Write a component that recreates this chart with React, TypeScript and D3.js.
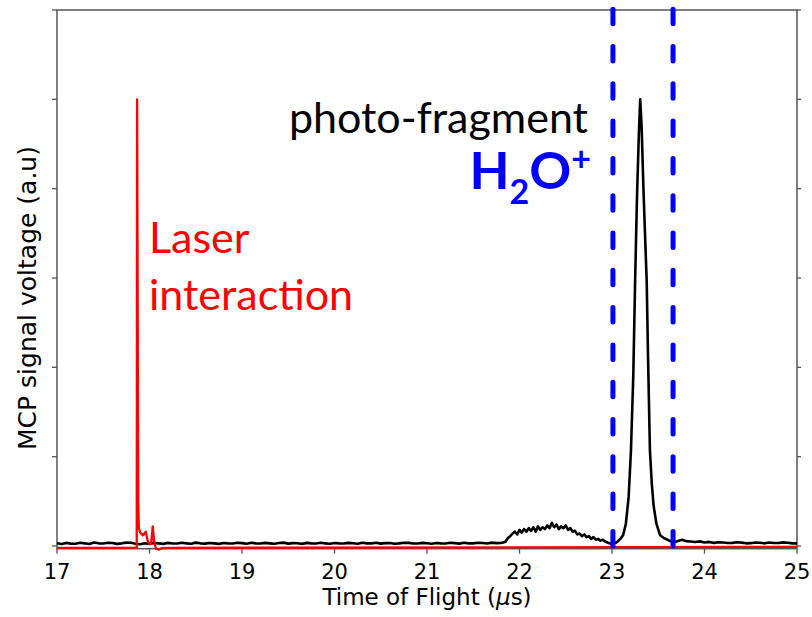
import * as d3 from "d3";
import React from "react";

// time of flight (µs) and MCP signal (a.u.)
const baseline: [number, number][] = [
  [17.0, 0.03], [17.05, 0.022], [17.1, 0.035], [17.15, 0.027], [17.2, 0.025], [17.25, 0.036],
  [17.3, 0.03], [17.35, 0.022], [17.4, 0.04], [17.45, 0.03], [17.5, 0.028], [17.55, 0.037],
  [17.6, 0.033], [17.65, 0.024], [17.7, 0.03], [17.75, 0.038], [17.8, 0.036], [17.85, 0.025],
  [17.9, 0.02], [17.95, 0.03], [18.0, 0.025], [18.05, 0.034], [18.1, 0.03], [18.15, 0.024],
  [18.2, 0.035], [18.25, 0.029], [18.3, 0.028], [18.35, 0.036], [18.4, 0.03], [18.45, 0.025],
  [18.5, 0.038], [18.55, 0.03], [18.6, 0.027], [18.65, 0.034], [18.7, 0.03], [18.75, 0.024],
  [18.8, 0.034], [18.85, 0.03], [18.9, 0.029], [18.95, 0.036], [19.0, 0.032], [19.05, 0.026],
  [19.1, 0.036], [19.15, 0.03], [19.2, 0.028], [19.25, 0.035], [19.3, 0.03], [19.35, 0.025],
  [19.4, 0.033], [19.45, 0.038], [19.5, 0.027], [19.55, 0.032], [19.6, 0.031], [19.65, 0.024],
  [19.7, 0.035], [19.75, 0.03], [19.8, 0.029], [19.85, 0.036], [19.9, 0.03], [19.95, 0.025],
  [20.0, 0.034], [20.05, 0.03], [20.1, 0.028], [20.15, 0.035], [20.2, 0.031], [20.25, 0.025],
  [20.3, 0.036], [20.35, 0.03], [20.4, 0.03], [20.45, 0.037], [20.5, 0.027], [20.55, 0.032],
  [20.6, 0.033], [20.65, 0.026], [20.7, 0.03], [20.75, 0.036], [20.8, 0.035], [20.85, 0.028],
  [20.9, 0.029], [20.95, 0.035], [21.0, 0.031], [21.05, 0.026], [21.1, 0.034], [21.15, 0.03],
  [21.2, 0.028], [21.25, 0.036], [21.3, 0.032], [21.35, 0.027], [21.4, 0.036], [21.45, 0.03],
  [21.5, 0.03], [21.55, 0.037], [21.6, 0.033], [21.65, 0.028], [21.7, 0.038], [21.75, 0.032],
];

const hump: [number, number][] = [
  [21.8, 0.035], [21.825, 0.04], [21.85, 0.05], [21.875, 0.09], [21.9, 0.11], [21.925, 0.14],
  [21.95, 0.16], [21.975, 0.13], [22.0, 0.18], [22.025, 0.15], [22.05, 0.19], [22.075, 0.16],
  [22.1, 0.2], [22.125, 0.17], [22.15, 0.21], [22.175, 0.16], [22.2, 0.22], [22.225, 0.18],
  [22.25, 0.21], [22.275, 0.19], [22.3, 0.23], [22.325, 0.2], [22.35, 0.26], [22.375, 0.21],
  [22.4, 0.24], [22.425, 0.19], [22.45, 0.22], [22.475, 0.2], [22.5, 0.23], [22.525, 0.18],
  [22.55, 0.2], [22.575, 0.16], [22.6, 0.17], [22.625, 0.13], [22.65, 0.14], [22.675, 0.11],
  [22.7, 0.13], [22.725, 0.1], [22.75, 0.11], [22.775, 0.08], [22.8, 0.1], [22.825, 0.07],
  [22.85, 0.08], [22.875, 0.06], [22.9, 0.07], [22.925, 0.05], [22.95, 0.04], [22.975, 0.03],
  [23.0, 0.02],
];

const peak: [number, number][] = [
  [23.03, 0.03], [23.06, 0.05], [23.09, 0.08], [23.12, 0.12], [23.15, 0.25], [23.18, 0.55],
  [23.205, 1.07], [23.23, 1.9], [23.25, 2.97], [23.27, 3.9], [23.29, 4.6], [23.305, 5.0],
  [23.32, 4.7], [23.34, 4.0], [23.36, 3.4], [23.375, 2.97], [23.39, 2.1], [23.41, 1.07],
  [23.43, 0.7], [23.45, 0.45], [23.48, 0.25], [23.52, 0.12], [23.56, 0.09], [23.6, 0.07],
  [23.64, 0.05], [23.68, 0.045], [23.72, 0.06], [23.76, 0.07], [23.8, 0.055],
];

const tail: [number, number][] = [
  [23.85, 0.05], [23.9, 0.045], [23.95, 0.052], [24.0, 0.04], [24.05, 0.046], [24.1, 0.035],
  [24.15, 0.042], [24.2, 0.04], [24.25, 0.033], [24.3, 0.035], [24.35, 0.043], [24.4, 0.038],
  [24.45, 0.03], [24.5, 0.032], [24.55, 0.04], [24.6, 0.036], [24.65, 0.03], [24.7, 0.04],
  [24.75, 0.034], [24.8, 0.033], [24.85, 0.041], [24.9, 0.037], [24.95, 0.03], [25.0, 0.03],
];

const laser: [number, number][] = [
  [17.0, -0.02], [17.862, -0.02], [17.866, 5.0], [17.878, 0.5], [17.885, 0.2], [17.9, 0.15],
  [17.93, 0.12], [17.96, 0.16], [17.98, 0.06], [18.0, 0.02], [18.02, 0.05], [18.035, 0.22],
  [18.05, 0.05], [18.07, -0.03], [18.1, -0.04], [18.13, -0.025], [18.2, -0.02], [25.0, -0.01],
];

const gateEdges = [23.01, 23.66];
const xTicks = [17, 18, 19, 20, 21, 22, 23, 24, 25];
const yTicks = [0, 1, 2, 3, 4, 5, 6];

const App = () => {
  const width = 812;
  const height = 617;
  const left = 57, right = 797, top = 10, bottom = 548.7;

  const x = d3.scaleLinear().domain([17, 25]).range([left, right]);
  const y = d3.scaleLinear().domain([-0.03, 6]).range([bottom, top]);

  const line = d3.line<[number, number]>()
    .x(d => x(d[0]))
    .y(d => y(d[1]));

  const signal = [...baseline, ...hump, ...peak, ...tail];
  const axisColor = "#555";
  const tickFont = "DejaVu Sans, sans-serif";
  const noteFont = "Lato, sans-serif";

  return (
    <svg width={width} height={height} style={{ position: "absolute", left: 0, top: 0 }}>
      <rect width={width} height={height} fill="white" />

      {/* spines */}
      <rect x={left} y={top} width={right - left} height={bottom - top}
        fill="none" stroke={axisColor} strokeWidth={1.5} />

      {yTicks.map(t => (
        <g key={"y" + t}>
          <line x1={left - 5} x2={left} y1={y(t)} y2={y(t)} stroke={axisColor} strokeWidth={1.3} />
          <line x1={right} x2={right + 4} y1={y(t)} y2={y(t)} stroke={axisColor} strokeWidth={1.3} />
        </g>
      ))}
      {xTicks.map(t => (
        <g key={"x" + t}>
          <line x1={x(t)} x2={x(t)} y1={bottom} y2={bottom + 5} stroke={axisColor} strokeWidth={1.3} />
          <text x={x(t)} y={579} textAnchor="middle" fontFamily={tickFont} fontSize={21}>{t}</text>
        </g>
      ))}

      <text x={427} y={605} textAnchor="middle" fontFamily={tickFont} fontSize={23}>
        Time of Flight (<tspan fontStyle="italic">μ</tspan>s)
      </text>
      <text transform="translate(36,298) rotate(-90)" textAnchor="middle" fontFamily={tickFont} fontSize={25}>
        MCP signal voltage (a.u)
      </text>

      {/* traces */}
      <path d={line(signal) ?? ""} fill="none" stroke="black" strokeWidth={2.6} strokeLinejoin="round" />
      <path d={line(laser) ?? ""} fill="none" stroke="#ff0000" strokeWidth={2.3} strokeLinejoin="round" />

      {/* mass gate */}
      {gateEdges.map(g => (
        <line key={g} x1={x(g)} x2={x(g)} y1={9.2} y2={y(-0.02)}
          stroke="#0000ff" strokeWidth={5} strokeDasharray="14.5 22.8" strokeLinecap="round" />
      ))}

      {/* annotations */}
      <text x={588} y={133} textAnchor="end" fontFamily={noteFont} fontSize={43} fill="black">photo-fragment</text>
      <text x={591} y={189} textAnchor="end" fontFamily={noteFont} fontSize={52} fontWeight="bold" fill="#0000ff">
        H<tspan fontSize={34} dy={15}>2</tspan><tspan dy={-15}>O</tspan><tspan fontSize={34} dy={-18}>+</tspan>
      </text>
      <text x={149} y={253} fontFamily={noteFont} fontSize={43} fill="#ff0000">Laser</text>
      <text x={149} y={310} fontFamily={noteFont} fontSize={43} fill="#ff0000">interaction</text>
    </svg>
  );
};

export default App;
